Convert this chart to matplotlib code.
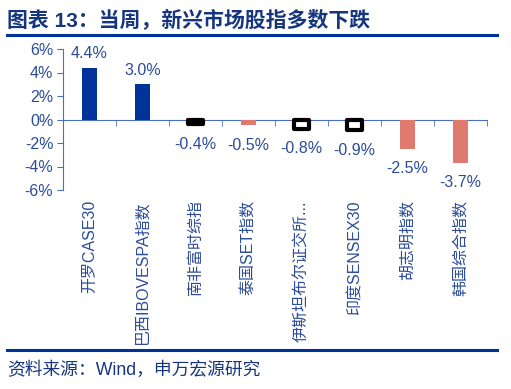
import matplotlib
matplotlib.use("Agg")
import matplotlib.pyplot as plt
import numpy as np

categories = ["开罗CASE30", "巴西IBOVESPA指数", "南非富时综指", "泰国SET指数",
              "伊斯坦布尔证交所...", "印度SENSEX30", "胡志明指数", "韩国综合指数"]
values = [4.4, 3.0, -0.4, -0.5, -0.8, -0.9, -2.5, -3.7]
styles = ["blue", "blue", "outline", "red", "outline", "outline", "red", "red"]
yticks = [-6, -4, -2, 0, 2, 4, 6]

plt.rcParams['font.family'] = ['Liberation Sans', 'Noto Sans CJK SC', 'DejaVu Sans']

W, H = 511, 389
fig = plt.figure(figsize=(W/100, H/100), dpi=100)
ax = fig.add_axes([63/W, 1-190/H, (487-63)/W, (190-49)/H])

txt = "#2B4C99"
axc = "#4A6FC0"
blue = "#003399"
red = "#E07A6E"

x = np.arange(len(values))
for xi, v, s in zip(x, values, styles):
    if s == "blue":
        ax.bar(xi, v, width=0.3, color=blue, zorder=3)
    elif s == "red":
        ax.bar(xi, v, width=0.3, color=red, zorder=3)
    else:
        b = ax.bar(xi, v, width=0.3, facecolor="white", edgecolor="black",
                   linewidth=3, zorder=3)
        for p in b:
            p.set_joinstyle("round")
    label = f"{v:.1f}%"
    if v >= 0:
        ax.annotate(label, (xi, v), xytext=(0, 14), textcoords="offset pixels",
                    ha="center", va="center", fontsize=11.5, color=txt)
    else:
        ax.annotate(label, (xi, v), xytext=(0, -20), textcoords="offset pixels",
                    ha="center", va="center", fontsize=11.5, color=txt)

ax.set_xlim(-0.5, len(values) - 0.5)
ax.set_ylim(-6, 6)
ax.set_yticks(yticks)
ax.set_yticklabels([f"{t}%" for t in yticks])
ax.spines['top'].set_visible(False)
ax.spines['right'].set_visible(False)
ax.spines['bottom'].set_position(('data', 0))
ax.spines['bottom'].set_color(axc)
ax.spines['left'].set_color(axc)
ax.set_xticks(x)
ax.set_xticklabels(categories, rotation=90, ha='center', va='top')
ax.set_xticks(np.arange(len(values) + 1) - 0.5, minor=True)
ax.tick_params(axis='x', which='major', length=0, pad=58, labelsize=11.5, labelcolor=txt)
ax.tick_params(axis='x', which='minor', length=4, direction='out', color=axc)
ax.tick_params(axis='y', length=4, direction='out', color=axc, labelsize=11.5, labelcolor=txt, pad=3)

fig.text(7/W, 1-21/H, "图表 13：当周，新兴市场股指多数下跌", fontsize=15, fontweight='bold',
         color="#15357F", ha='left', va='center')
fig.add_artist(plt.Line2D([7/W, 497/W], [1-35/H, 1-35/H], color=blue, linewidth=2.2))
fig.add_artist(plt.Line2D([7/W, 497/W], [1-350/H, 1-350/H], color=blue, linewidth=2.2))
fig.text(7/W, 1-370/H, "资料来源：Wind，申万宏源研究", fontsize=12.8,
         color="#15357F", ha='left', va='center')

fig.savefig("out.png", dpi=100)
